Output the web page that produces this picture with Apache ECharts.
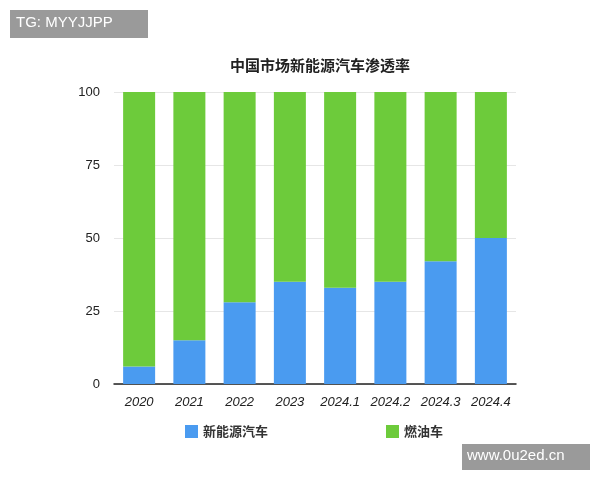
<!DOCTYPE html>
<html><head><meta charset="utf-8">
<script src="https://cdn.jsdelivr.net/npm/echarts@6/dist/echarts.min.js"></script>
<style>body{margin:0}#c{width:600px;height:480px}</style></head>
<body><div id="c"></div>
<script>
const categories=['2020','2021','2022','2023','2024.1','2024.2','2024.3','2024.4'];
const nev=[6,15,28,35,33,35,42,50];
const ice=[94,85,72,65,67,65,58,50];
const yTicks=[0,25,50,75,100];
const ch=echarts.init(document.getElementById('c'));
const f='"Noto Sans CJK SC", sans-serif';
ch.setOption({
 animation:false,
 title:{text:'中国市场新能源汽车渗透率',left:315,textAlign:'center',top:53,textStyle:{fontSize:15,fontWeight:'bold',color:'#222',fontFamily:f}},
 graphic:[
  {type:'rect',shape:{x:10,y:10,width:138,height:28},style:{fill:'#9a9a9a'}},
  {type:'text',left:16,top:15,style:{text:'TG: MYYJJPP',fill:'#fff',font:'15px Arial'}},
  {type:'rect',shape:{x:462,y:444,width:128,height:26},style:{fill:'#9a9a9a'}},
  {type:'text',left:467,top:448,style:{text:'www.0u2ed.cn',fill:'#fff',font:'15px Arial'}}
 ],
 legend:{top:420,left:180,itemGap:118,itemWidth:13,itemHeight:13,icon:'rect',textStyle:{fontSize:13,fontWeight:'bold',color:'#333',fontFamily:f}},
 grid:{left:114,right:84,top:92,bottom:96},
 xAxis:{type:'category',data:categories,axisTick:{show:false},axisLine:{lineStyle:{color:'#222',width:1.5}},
  axisLabel:{interval:0,fontStyle:'italic',fontSize:13,color:'#222',margin:12,fontFamily:'Arial'}},
 yAxis:{type:'value',min:0,max:100,interval:25,axisLabel:{fontSize:13,color:'#222',margin:14,fontFamily:'Arial'},
  splitLine:{lineStyle:{color:'#e6e6e6'}}},
 series:[
  {name:'新能源汽车',type:'bar',stack:'a',data:nev,barWidth:32,itemStyle:{color:'#4a9bf0'}},
  {name:'燃油车',type:'bar',stack:'a',data:ice,barWidth:32,itemStyle:{color:'#6dcb3b'}}
 ]
});
</script></body></html>
